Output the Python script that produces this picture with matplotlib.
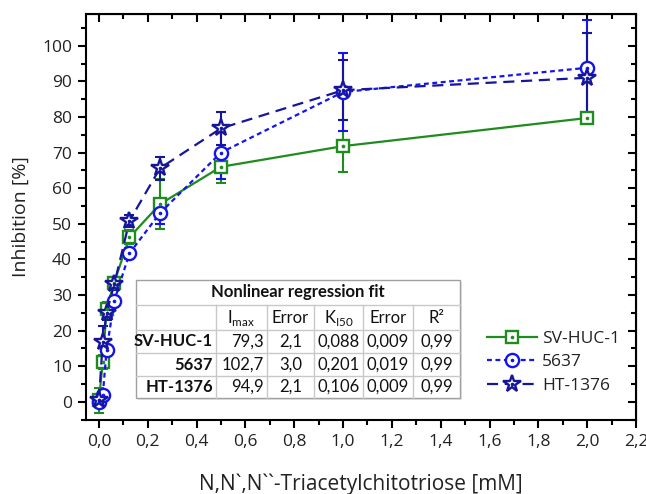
import matplotlib
matplotlib.use("Agg")
import matplotlib.pyplot as plt
from matplotlib.lines import Line2D
from matplotlib.ticker import MultipleLocator, FuncFormatter
from matplotlib.legend_handler import HandlerTuple

plt.rcParams['font.family'] = ['Open Sans', 'DejaVu Sans']

# ---- data ----
conc = [0.0, 0.0156, 0.03125, 0.0625, 0.125, 0.25, 0.5, 1.0, 2.0]
sv_huc = [0.5, 11.2, 26.0, 33.5, 46.2, 55.5, 66.0, 71.8, 79.7]
sv_huc_err = [3.5, 2.0, 2.0, 1.5, 2.0, 7.0, 4.5, 7.2, 1.0]
c5637 = [0.0, 1.8, 14.5, 28.3, 41.7, 53.0, 70.0, 87.0, 93.8]
c5637_err = [1.5, 1.5, 1.5, 1.5, 1.5, 3.0, 7.3, 11.0, 13.5]
ht1376 = [0.5, 16.9, 25.0, 33.0, 50.8, 65.6, 76.8, 87.5, 91.0]
ht1376_err = [1.0, 4.5, 2.0, 1.5, 1.8, 3.2, 4.7, 8.5, 12.5]
series_names = ['SV-HUC-1', '5637', 'HT-1376']

table_title = 'Nonlinear regression fit'
table_cols = ['I$_{\\mathregular{max}}$', 'Error', 'K$_{\\mathregular{I50}}$', 'Error', 'R²']
table_rows = ['SV-HUC-1', '5637', 'HT-1376']
imax = ['79,3', '102,7', '94,9']
imax_err = ['2,1', '3,0', '2,1']
ki50 = ['0,088', '0,201', '0,106']
ki50_err = ['0,009', '0,019', '0,009']
r2 = ['0,99', '0,99', '0,99']

# ---- figure ----
W, H = 646, 494
fig = plt.figure(figsize=(W / 100, H / 100), dpi=100)
ax = fig.add_axes([86 / W, 1 - 420 / H, (636 - 86) / W, (420 - 14) / H])

green = '#1f8c1f'
blue = '#1414f0'
navy = '#16169a'
txt = '#222222'

styles = [
    dict(color=green, ls='-', marker='s', ms=8.5),
    dict(color=blue, ls=(0, (2.2, 1.6)), marker='o', ms=9.5),
    dict(color=navy, ls=(0, (5, 3)), marker='*', ms=13),
]
data = [(sv_huc, sv_huc_err), (c5637, c5637_err), (ht1376, ht1376_err)]

handles = []
for (y, e), st, name in zip(data, styles, series_names):
    ax.errorbar(conc, y, yerr=e, fmt='none', ecolor=st['color'], elinewidth=1.5,
                capsize=3.5, capthick=1.5, zorder=3)
    ln, = ax.plot(conc, y, color=st['color'], ls=st['ls'], lw=1.6,
                  marker=st['marker'], ms=st['ms'], mfc='white', mec=st['color'],
                  mew=1.7, zorder=4)
    dot, = ax.plot(conc, y, ls='none', marker='o', ms=1.6, color=st['color'], zorder=5)
    handles.append((ln, dot))

ax.set_xlim(-0.053, 2.2)
ax.set_ylim(-5.1, 108.9)
ax.xaxis.set_major_locator(MultipleLocator(0.2))
ax.xaxis.set_minor_locator(MultipleLocator(0.1))
ax.yaxis.set_major_locator(MultipleLocator(10))
ax.yaxis.set_minor_locator(MultipleLocator(5))
ax.xaxis.set_major_formatter(FuncFormatter(lambda v, p: f'{v:.1f}'.replace('.', ',')))
ax.yaxis.set_major_formatter(FuncFormatter(lambda v, p: f'{v:.0f}'))

for s in ax.spines.values():
    s.set_linewidth(1.5)
ax.tick_params(axis='both', which='major', direction='out', length=6, width=1.5,
               labelsize=12.5, labelcolor=txt, pad=4)
ax.tick_params(axis='both', which='minor', direction='out', length=3.5, width=1.5)
axt = ax.secondary_xaxis('top')
axt.xaxis.set_major_locator(MultipleLocator(0.2))
axt.xaxis.set_minor_locator(MultipleLocator(0.1))
axt.tick_params(which='major', direction='in', length=6, width=1.5, labeltop=False)
axt.tick_params(which='minor', direction='in', length=3.5, width=1.5)
axr = ax.secondary_yaxis('right')
axr.yaxis.set_major_locator(MultipleLocator(10))
axr.yaxis.set_minor_locator(MultipleLocator(5))
axr.tick_params(which='major', direction='in', length=6, width=1.5, labelright=False)
axr.tick_params(which='minor', direction='in', length=3.5, width=1.5)

ax.set_xlabel('N,N`,N``-Triacetylchitotriose [mM]', fontsize=15, labelpad=17,
              color=txt)
ax.set_ylabel('Inhibition [%]', fontsize=14, labelpad=9, color=txt)

# ---- legend ----
ax.legend(handles, series_names, handler_map={tuple: HandlerTuple(ndivide=1)},
          loc='upper left', bbox_to_anchor=(478 / W, 1 - 322 / H),
          bbox_transform=fig.transFigure, frameon=False, fontsize=12.5,
          handlelength=2.9, handletextpad=0.3, labelspacing=0.42, borderpad=0,
          labelcolor=txt)

# ---- table (pixel layout) ----
def fx(px):
    return px / W

def fy(py):
    return 1 - py / H

tfont = ['Lato', 'DejaVu Sans']
col_x = [136, 216, 266.7, 314, 363, 413, 460]
row_y = [280, 305, 330, 353, 376, 398]
edge = '#a0a0a0'
inner = '#c8c8c8'
fig.patches.append(plt.Rectangle((fx(138), fy(400)), fx(460) - fx(136), fy(280) - fy(398),
                                 transform=fig.transFigure, facecolor='#e6e6e6',
                                 edgecolor='none', zorder=6))
fig.patches.append(plt.Rectangle((fx(136), fy(398)), fx(460) - fx(136), fy(280) - fy(398),
                                 transform=fig.transFigure, facecolor='white',
                                 edgecolor=edge, lw=1.0, zorder=7))
for yy in row_y[1:-1]:
    fig.add_artist(Line2D([fx(136), fx(460)], [fy(yy), fy(yy)], color=inner, lw=1.0,
                          transform=fig.transFigure, zorder=8))
for xx in col_x[1:-1]:
    fig.add_artist(Line2D([fx(xx), fx(xx)], [fy(305), fy(398)], color=inner, lw=1.0,
                          transform=fig.transFigure, zorder=8))

tsize = 12
fig.text(fx((136 + 460) / 2), fy((280 + 305) / 2), table_title, ha='center', va='center',
         fontsize=tsize, fontweight='bold', family=tfont, zorder=9, color='#111111')
for i, c in enumerate(table_cols):
    xc = (col_x[i + 1] + col_x[i + 2]) / 2
    fig.text(fx(xc), fy((305 + 330) / 2), c, ha='center', va='center', fontsize=tsize,
             family=tfont, zorder=9, color='#111111')
cols = [imax, imax_err, ki50, ki50_err, r2]
for r, name in enumerate(table_rows):
    yc = (row_y[r + 2] + row_y[r + 3]) / 2
    fig.text(fx(col_x[1] - 3), fy(yc), name, ha='right', va='center', fontsize=tsize,
             fontweight='bold', family=tfont, zorder=9, color='#111111')
    for i, col in enumerate(cols):
        if i == 0:
            fig.text(fx(col_x[2] - 3), fy(yc), col[r], ha='right', va='center',
                     fontsize=tsize, family=tfont, zorder=9, color='#111111')
        else:
            xc = (col_x[i + 1] + col_x[i + 2]) / 2
            fig.text(fx(xc), fy(yc), col[r], ha='center', va='center', fontsize=tsize,
                     family=tfont, zorder=9, color='#111111')

fig.savefig('out.png', dpi=100)
